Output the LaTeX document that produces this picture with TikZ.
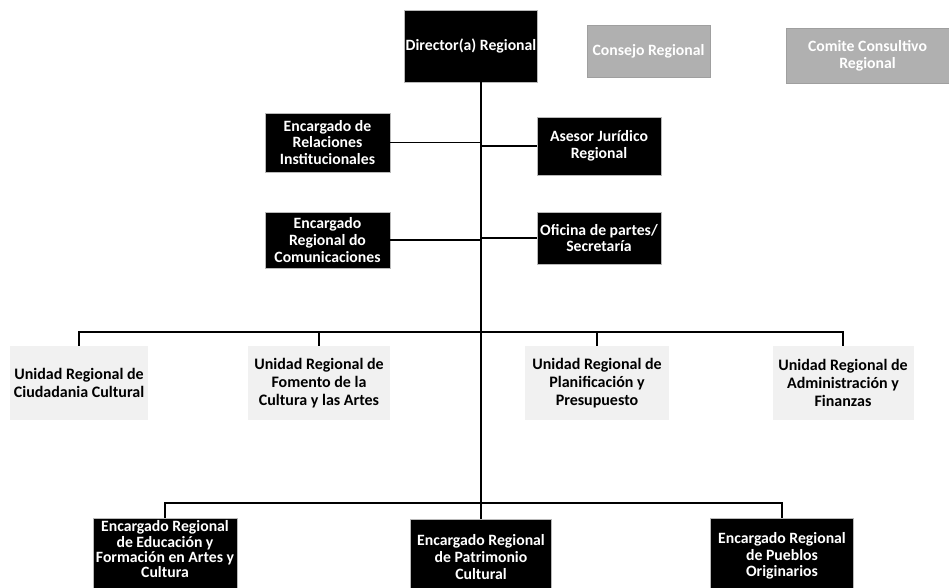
\documentclass[tikz,border=0pt]{standalone}
\usepackage{fontspec}
\setmainfont{Carlito}
\begin{document}
\begin{tikzpicture}[x=0.75pt,y=-0.75pt,
  darkbox/.style={fill=black,draw=gray!55,line width=0.6pt,text=white,align=center,inner sep=1pt,font=\fontsize{11.8}{12.6}\selectfont\bfseries},
  greybox/.style={fill=gray!62,draw=gray!75,line width=0.6pt,text=white,align=center,inner sep=1pt,font=\fontsize{11.8}{12.6}\selectfont\bfseries},
  unitbox/.style={fill=gray!11,draw=none,text=black,align=center,inner sep=1pt,font=\fontsize{12}{13.6}\selectfont\bfseries},
  spineline/.style={line width=2.2pt},
  link/.style={line width=1.4pt}]
\useasboundingbox (0,0) rectangle (949,588);
% top row
\node[darkbox,minimum width=99pt,minimum height=54pt] (dir) at (471,46) {Director(a) Regional};
\node[greybox,minimum width=92.25pt,minimum height=39pt] (cons) at (648.5,51) {Consejo Regional};
\node[greybox,minimum width=122.25pt,minimum height=41.25pt] (comi) at (867.5,55.5) {Comite Consultivo\\Regional};
% staff
\node[darkbox,minimum width=93.75pt,minimum height=44.25pt] (rel) at (327.5,142.5) {Encargado de\\Relaciones\\Institucionales};
\node[darkbox,minimum width=93pt,minimum height=43.5pt] (ase) at (599,146) {Asesor Jurídico\\Regional};
\node[darkbox,minimum width=93.75pt,minimum height=42pt] (com) at (327.5,240) {Encargado\\Regional do\\Comunicaciones};
\node[darkbox,minimum width=93pt,minimum height=39pt] (ofi) at (599,238) {Oficina de partes/\\Secretaría};
% units
\node[unitbox,minimum width=103.5pt,minimum height=55.5pt] (u1) at (79,383) {Unidad Regional de\\Ciudadania Cultural};
\node[unitbox,minimum width=106.5pt,minimum height=55.5pt] (u2) at (319,383) {Unidad Regional  de\\Fomento de la\\Cultura y las Artes};
\node[unitbox,minimum width=108pt,minimum height=55.5pt] (u3) at (597,383) {Unidad Regional de\\Planificación y\\Presupuesto};
\node[unitbox,minimum width=105.75pt,minimum height=55.5pt] (u4) at (843,383) {Unidad Regional  de\\Administración y\\Finanzas};
% bottom
\node[darkbox,minimum width=108pt,minimum height=57pt] (e1) at (165,556) {\raisebox{3.5pt}[\height][\depth]{\begin{tabular}{@{}c@{}}Encargado Regional\\[-1.2pt]de Educación y\\[-1.2pt]Formación en Artes y\\[-1.2pt]Cultura\end{tabular}}};
\node[darkbox,minimum width=105.75pt,minimum height=57pt] (e2) at (481,557) {Encargado Regional\\de Patrimonio\\Cultural};
\node[darkbox,minimum width=107.25pt,minimum height=57pt] (e3) at (782,556) {Encargado Regional\\de Pueblos\\Originarios};
% spine coordinates
\coordinate (stop) at (481,82);
\coordinate (ubus) at (481,332);
\coordinate (bbus) at (481,503);
% connectors
\draw[spineline] (stop) -- (e2.north);
\draw[link] (rel.east) -- (rel.east -| stop);
\draw[link] (ase.west) -- (ase.west -| stop);
\draw[link] (com.east) -- (com.east -| stop);
\draw[link] (ofi.west) -- (ofi.west -| stop);
\draw[link] (u1.north) |- (ubus) -| (u4.north);
\draw[link] (u2.north) -- (u2.north |- ubus);
\draw[link] (u3.north) -- (u3.north |- ubus);
\draw[link] (e1.north) |- (bbus) -| (e3.north);
\end{tikzpicture}
\end{document}
